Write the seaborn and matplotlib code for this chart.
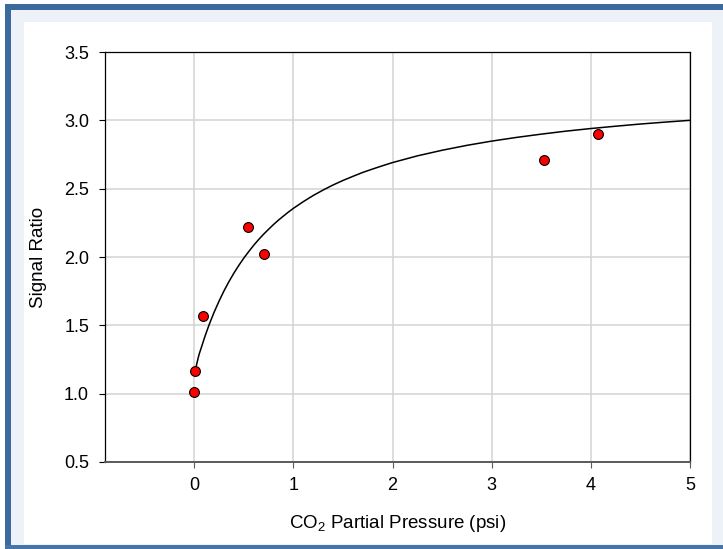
import matplotlib
matplotlib.use("Agg")
import matplotlib.pyplot as plt
from matplotlib.patches import Rectangle
import seaborn as sns
import pandas as pd

# Measured data points
pressure = [0.0, 0.01, 0.09, 0.54, 0.70, 3.53, 4.07]
signal = [1.01, 1.165, 1.565, 2.22, 2.025, 2.71, 2.90]

# Fitted curve
curve_x = [0.01, 0.02, 0.03, 0.04, 0.05, 0.075, 0.10, 0.125, 0.15, 0.175, 0.20, 0.25, 0.30,
           0.35, 0.40, 0.45, 0.50, 0.55, 0.60, 0.65, 0.70, 0.75, 0.80, 0.85, 0.90, 0.95,
           1.00, 1.10, 1.20, 1.30, 1.40, 1.50, 1.60, 1.70, 1.80, 1.90, 2.00, 2.25, 2.50,
           2.75, 3.00, 3.25, 3.50, 3.75, 4.00, 4.25, 4.50, 4.75, 5.00]
curve_y = [1.170, 1.200, 1.232, 1.262, 1.290, 1.345, 1.402, 1.454, 1.504, 1.550, 1.595,
           1.677, 1.752, 1.820, 1.882, 1.939, 1.992, 2.040, 2.086, 2.128, 2.167, 2.203,
           2.238, 2.270, 2.300, 2.329, 2.356, 2.405, 2.450, 2.490, 2.527, 2.560, 2.590,
           2.619, 2.644, 2.668, 2.691, 2.740, 2.781, 2.817, 2.848, 2.875, 2.899, 2.921,
           2.940, 2.957, 2.973, 2.987, 3.000]

x_ticks = [0, 1, 2, 3, 4, 5]
y_ticks = [0.5, 1.0, 1.5, 2.0, 2.5, 3.0, 3.5]

sns.set_theme(style="white")
plt.rcParams['font.family'] = ['Liberation Sans', 'DejaVu Sans']
plt.rcParams['mathtext.default'] = 'regular'

W, H = 723, 549
fig = plt.figure(figsize=(W / 100, H / 100), dpi=100, facecolor="white")

def frect(x0, y0, x1, y1, color):
    # pixel coords measured from top-left
    fig.patches.append(Rectangle((x0 / W, 1 - y1 / H), (x1 - x0) / W, (y1 - y0) / H,
                                 transform=fig.transFigure, facecolor=color,
                                 edgecolor="none", zorder=-10))

frect(11, 10, 740, 545, "#edf2f9")
frect(5, 4, 740, 10, "#3b6a9d")
frect(5, 4, 11, 560, "#3b6a9d")
frect(5, 545, 740, 560, "#4476ab")
frect(24, 22, 712, 544, "white")

ax = fig.add_axes([105 / W, 1 - 462 / H, (690 - 105) / W, (462 - 52) / H])
ax.set_facecolor("white")

df_pts = pd.DataFrame({"p": pressure, "s": signal})
df_curve = pd.DataFrame({"p": curve_x, "s": curve_y})

sns.lineplot(data=df_curve, x="p", y="s", ax=ax, color="black", linewidth=1.1,
             sort=False, estimator=None, zorder=3)
sns.scatterplot(data=df_pts, x="p", y="s", ax=ax, color="#ff0000", edgecolor="black",
                linewidth=0.8, s=50, zorder=4)

ax.set_xlim(-0.9, 5)
ax.set_ylim(0.5, 3.5)
ax.set_xticks(x_ticks)
ax.set_yticks(y_ticks)
ax.set_xticklabels([str(t) for t in x_ticks])
ax.set_yticklabels([f"{t:.1f}" for t in y_ticks])
ax.grid(True, color="#d3d3d3", linewidth=1.1)
ax.set_axisbelow(True)

for side in ["left", "top", "right"]:
    ax.spines[side].set_color("black")
    ax.spines[side].set_linewidth(0.9)
ax.spines["bottom"].set_color("#5a5a5a")
ax.spines["bottom"].set_linewidth(1.4)

ax.tick_params(axis="y", direction="out", length=4.5, width=0.8, color="black",
               pad=7, labelsize=13, labelcolor="black", left=True)
ax.tick_params(axis="x", direction="out", length=4.5, width=0.8, color="#5a5a5a",
               pad=6, labelsize=13, labelcolor="black", bottom=True)

ax.set_xlabel("CO$_2$ Partial Pressure (psi)", fontsize=13.5, color="black")
ax.set_ylabel("Signal Ratio", fontsize=13.5, color="black")
ax.xaxis.set_label_coords(0.5, (462 - 524) / 410)
ax.yaxis.set_label_coords((38 - 105) / 585, 0.5)
ax.xaxis.label.set_va("center")
ax.yaxis.label.set_va("center")

fig.savefig("out.png", dpi=100, facecolor=fig.get_facecolor())
